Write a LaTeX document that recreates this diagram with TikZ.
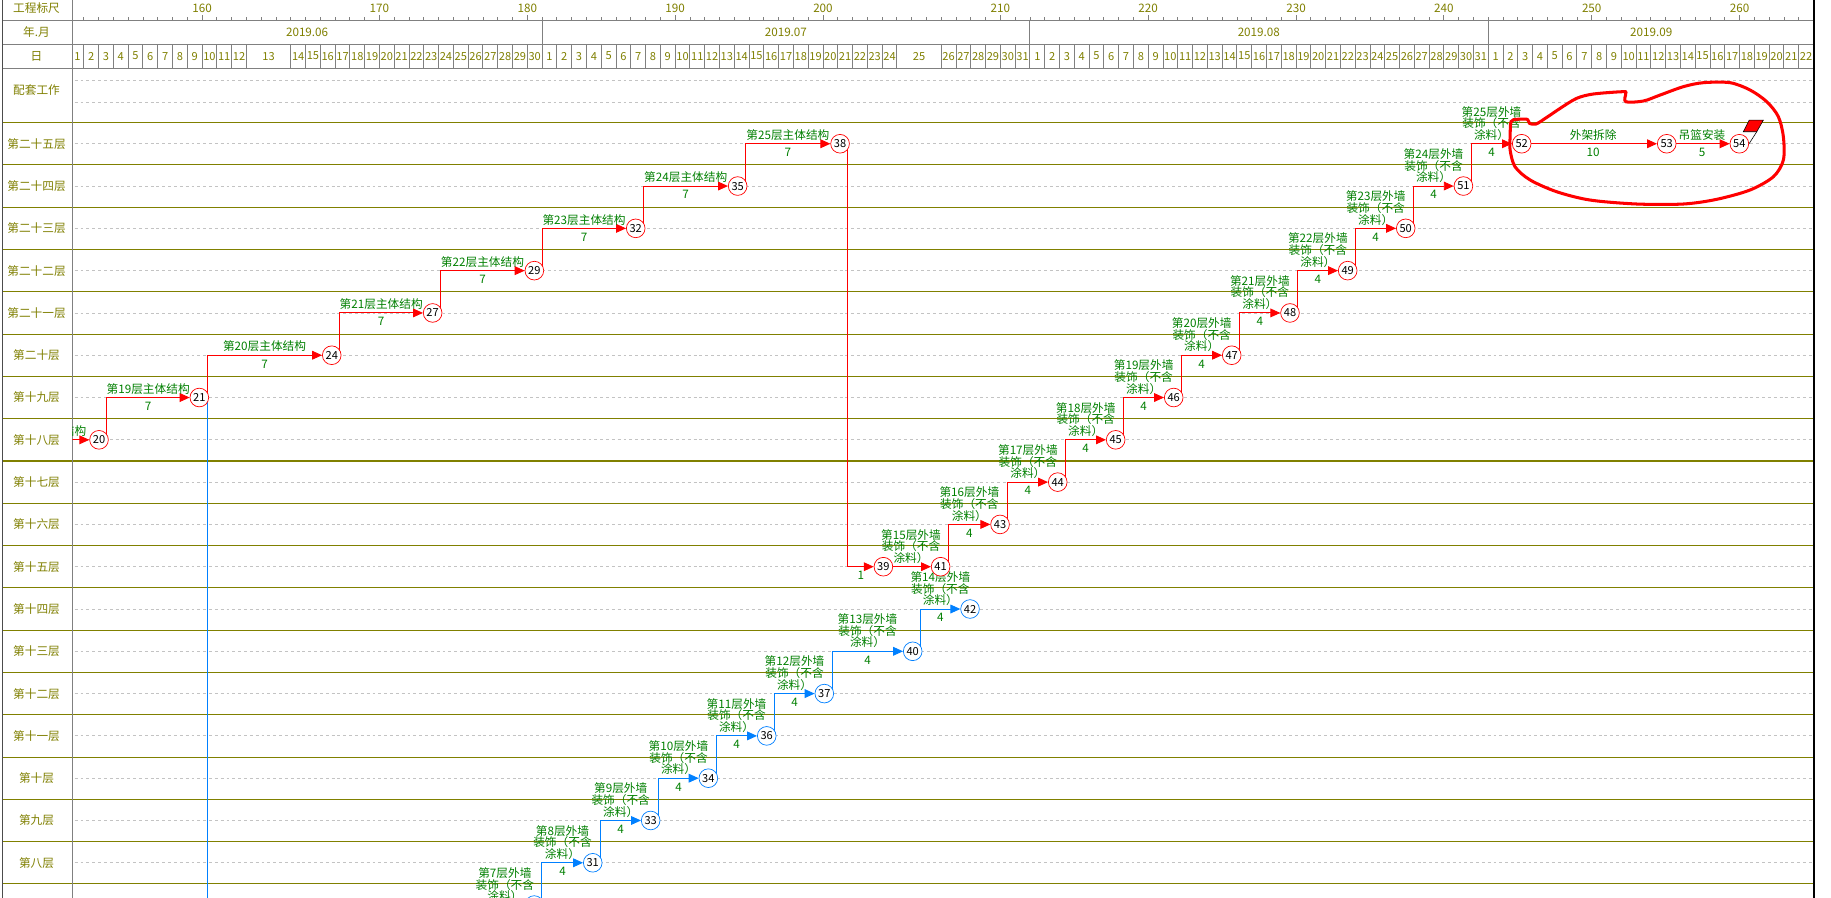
\documentclass[tikz,border=0pt]{standalone}
\usepackage{fontspec}
\setmainfont{Noto Sans CJK SC}
\usetikzlibrary{calc,arrows.meta}
\definecolor{olv}{RGB}{128,128,0}
\definecolor{grn}{RGB}{0,128,0}
\definecolor{rd}{RGB}{255,0,0}
\definecolor{bl}{RGB}{0,128,255}
\definecolor{gln}{RGB}{128,128,128}
\definecolor{dsh}{RGB}{195,195,195}
\pgfdeclarelayer{bg}\pgfdeclarelayer{edges}
\pgfsetlayers{bg,edges,main}
\newcommand\XS[1]{(59.1+12.66*(#1))}
\newcommand\RC[1]{(123.1+36.22*(#1))}
\newcommand\mkedge[5]{%
  \coordinate (tmpS) at ($(#1)+(6.6,0)$);
  \coordinate (tmpC) at (tmpS |- #2);
  \coordinate (tmpM) at ($(tmpC)!0.5!(#2.west)$);
  \draw[#3,conn] (tmpS) -- (tmpC) -- (#2.west);
  \node[lab,anchor=south] at ($(tmpM)+(0,-3.5)$) {#4};
  \node[dur,anchor=base] at ($(tmpM)+(0,11)$) {#5};
}
\begin{document}
\lineskiplimit=-20pt\relax
\begin{tikzpicture}[x=1pt,y=-1pt,
  evr/.style={circle,draw=rd,fill=white,line width=0.6pt,minimum size=16pt,inner sep=0pt,font=\fontsize{9.5}{9.5}\selectfont,text=black},
  evb/.style={evr,draw=bl},
  conn/.style={line width=0.8pt,-{Triangle[length=8.5pt,width=7.5pt]}},
  lab/.style={inner sep=0pt,align=center,text depth=0pt,text=grn,font=\fontsize{10}{10}\selectfont},
  dur/.style={inner sep=0pt,text=grn,font=\fontsize{10}{10}\selectfont},
  hdr/.style={inner sep=0pt,text=olv,font=\fontsize{10}{10}\selectfont},
  daytxt/.style={inner sep=0pt,text=olv,font=\fontsize{9.5}{9.5}\selectfont},
  rowline/.style={olv,line width=0.9pt},
  hline/.style={gln,line width=0.8pt},
  gridd/.style={dsh,line width=0.7pt,dash pattern=on 2.5pt off 2.5pt},
]
\useasboundingbox (0,0) rectangle (1568,769);
\begin{pgfonlayer}{bg}
\fill[white] (0,0) rectangle (1568,769);
% dashed centre lines
\foreach \y in {68.5,87.3} \draw[gridd] (64,\y) -- (1553,\y);
\foreach \k in {0,...,17} \draw[gridd] (64,{\RC{\k}}) -- (1553,{\RC{\k}});
% row lines
\foreach \k in {0,...,18} \draw[rowline] (2,{105+36.22*\k}) -- (1553,{105+36.22*\k});
% header lines
\foreach \y in {17.1,37.7,58.5} \draw[hline] (2,\y) -- (1553,\y);
% ruler ticks
\foreach \s in {1,...,117} \draw[gln,line width=0.7pt] ({\XS{\s}},17.1) -- ++(0,-2.5);
\foreach \s/\v in {9/160,21/170,31/180,41/190,51/200,63/210,73/220,83/230,93/240,103/250,113/260}{
  \draw[gln,line width=0.7pt] ({\XS{\s}},17.1) -- ++(0,-4);
  \node[hdr] (r\v) at ({\XS{\s}},7.3) {\v};}
% month boundaries
\foreach \s in {32,65,96} \draw[hline] ({\XS{\s}},17.1) -- ({\XS{\s}},58.5);
\node[hdr] (m6) at (263,27.7) {2019.06};
\node[hdr] (m7) at (673,27.7) {2019.07};
\node[hdr] (m8) at (1078,27.7) {2019.08};
\node[hdr] (m9) at (1414,27.7) {2019.09};
% day cells
\foreach \s in {1,...,12} \draw[hline] ({\XS{\s}},37.7) -- ({\XS{\s}},58.5);
\foreach \s in {15,...,56} \draw[hline] ({\XS{\s}},37.7) -- ({\XS{\s}},58.5);
\foreach \s in {59,...,117} \draw[hline] ({\XS{\s}},37.7) -- ({\XS{\s}},58.5);
\node[daytxt] (d6a) at (66.3,48) {1};
\foreach \d in {2,...,12} \node[daytxt] (d6b\d) at ({\XS{\d-0.5}},48) {\d};
\node[daytxt] (d6c) at ({\XS{13.5}},48) {13};
\foreach \d in {14,...,30} \node[daytxt] (d6d\d) at ({\XS{\d+1.5}},48) {\d};
\foreach \d in {1,...,24} \node[daytxt] (d7a\d) at ({\XS{31+\d+0.5}},48) {\d};
\node[daytxt] (d7b) at ({\XS{57.5}},48) {25};
\foreach \d in {26,...,31} \node[daytxt] (d7c\d) at ({\XS{33+\d+0.5}},48) {\d};
\foreach \d in {1,...,31} \node[daytxt] (d8\d) at ({\XS{64+\d+0.5}},48) {\d};
\foreach \d in {1,...,22} \node[daytxt] (d9\d) at ({\XS{95+\d+0.5}},48) {\d};
% left column
\node[hdr] (h1) at (31.3,7.3) {工程标尺};
\node[hdr] (h2) at (31.3,27.7) {年.月};
\node[hdr] (h3) at (31.3,48) {日};
\node[hdr] (h4) at (31.3,77) {配套工作};
\foreach \t [count=\i from 0] in {第二十五层,第二十四层,第二十三层,第二十二层,第二十一层,第二十层,第十九层,第十八层,第十七层,第十六层,第十五层,第十四层,第十三层,第十二层,第十一层,第十层,第九层,第八层}
  \node[hdr] (fl\i) at (31.3,{\RC{\i}}) {\t};
% verticals
\draw[gln,line width=0.9pt] (62,0) -- (62,769);
\draw[black!70,line width=1.4pt] (2.2,0) -- (2.2,769);
\draw[black,line width=1.4pt] (1553.3,0) -- (1553.3,769);
\end{pgfonlayer}

% event nodes
\foreach \n/\x/\k in {20/84.8/7,21/170.7/6,24/284.1/5,27/370.5/4,29/457.6/3,32/544.4/2,35/631.7/1,38/719.4/0,39/756.5/10,41/805.5/10,43/856.4/9,44/905.8/8,45/955.4/7,46/1005.1/6,47/1054.8/5,48/1104.7/4,49/1154.1/3,50/1203.8/2,51/1253.2/1,52/1303.1/0,53/1427.3/0,54/1489.5/0}
  \node[evr] (n\n) at (\x,{\RC{\k}}) {\n};
\foreach \n/\x/\k in {31/507.6/17,33/557.2/16,34/606.6/15,36/656.6/14,37/705.9/13,40/781.6/12,42/830.7/11}
  \node[evb] (n\n) at (\x,{\RC{\k}}) {\n};
\node[evb] (n7) at (457.5,{\RC{18}}) {};
\coordinate (s0) at (-6.6,{\RC{7}});
\coordinate (p6) at (408.9,{\RC{19}});
\coordinate (b21end) at ($(n21)+(6.6,440)$);

\begin{pgfonlayer}{edges}
\begin{scope}
\clip (62,58.5) rectangle (1553,769);
\mkedge{s0}{n20}{rd}{第18层主体结构}{}
\end{scope}
\draw[bl,line width=0.8pt] ($(n21)+(6.6,0)$) -- (b21end);
\mkedge{n20}{n21}{rd}{第19层主体结构}{7}
\mkedge{n21}{n24}{rd}{第20层主体结构}{7}
\mkedge{n24}{n27}{rd}{第21层主体结构}{7}
\mkedge{n27}{n29}{rd}{第22层主体结构}{7}
\mkedge{n29}{n32}{rd}{第23层主体结构}{7}
\mkedge{n32}{n35}{rd}{第24层主体结构}{7}
\mkedge{n35}{n38}{rd}{第25层主体结构}{7}
\mkedge{n38}{n39}{rd}{}{1}
\mkedge{n39}{n41}{rd}{第15层外墙\\装饰（不含\\涂料）}{}
\mkedge{n41}{n43}{rd}{第16层外墙\\装饰（不含\\涂料）}{4}
\mkedge{n43}{n44}{rd}{第17层外墙\\装饰（不含\\涂料）}{4}
\mkedge{n44}{n45}{rd}{第18层外墙\\装饰（不含\\涂料）}{4}
\mkedge{n45}{n46}{rd}{第19层外墙\\装饰（不含\\涂料）}{4}
\mkedge{n46}{n47}{rd}{第20层外墙\\装饰（不含\\涂料）}{4}
\mkedge{n47}{n48}{rd}{第21层外墙\\装饰（不含\\涂料）}{4}
\mkedge{n48}{n49}{rd}{第22层外墙\\装饰（不含\\涂料）}{4}
\mkedge{n49}{n50}{rd}{第23层外墙\\装饰（不含\\涂料）}{4}
\mkedge{n50}{n51}{rd}{第24层外墙\\装饰（不含\\涂料）}{4}
\mkedge{n51}{n52}{rd}{第25层外墙\\装饰（不含\\涂料）}{4}
\mkedge{n52}{n53}{rd}{外架拆除}{10}
\mkedge{n53}{n54}{rd}{吊篮安装}{5}
\mkedge{p6}{n7}{bl}{第7层外墙\\装饰（不含\\涂料）}{}
\mkedge{n7}{n31}{bl}{第8层外墙\\装饰（不含\\涂料）}{4}
\mkedge{n31}{n33}{bl}{第9层外墙\\装饰（不含\\涂料）}{4}
\mkedge{n33}{n34}{bl}{第10层外墙\\装饰（不含\\涂料）}{4}
\mkedge{n34}{n36}{bl}{第11层外墙\\装饰（不含\\涂料）}{4}
\mkedge{n36}{n37}{bl}{第12层外墙\\装饰（不含\\涂料）}{4}
\mkedge{n37}{n40}{bl}{第13层外墙\\装饰（不含\\涂料）}{4}
\mkedge{n40}{n42}{bl}{第14层外墙\\装饰（不含\\涂料）}{4}
\end{pgfonlayer}

% flag on 54
\draw[black,line width=0.5pt] (1504.4,112.8) -- (n54.east);
\draw[fill=rd,draw=black,line width=0.5pt] (1492.9,112.8) -- (1498,102.8) -- (1510.1,102.8) -- (1504.4,112.8) -- cycle;

% hand-drawn red mark
\draw[rd,line width=2.6pt,line join=round,line cap=round] plot[smooth cycle,tension=0.5] coordinates {
(1294,104.2) (1298.9,102.2) (1308,102.2) (1309.7,105.6) (1315.4,106.2) (1324.6,100.5) (1336,92.8) (1350.2,84.2) (1364.5,80.5) (1390.2,78.5) (1392.2,80) (1392.2,87.1) (1407.3,86.5) (1421.6,81.4) (1441.6,74.2) (1458.7,70.8) (1481.5,70.8) (1498.7,77.1) (1513,87.1) (1522.9,99.9) (1527.2,117.1) (1527.2,137) (1518.7,151.3) (1498.7,162.7) (1470.1,170.7) (1441.6,174.7) (1401.6,174.7) (1361.6,171.3) (1333.1,164.2) (1310.3,154.1) (1297.4,142.8) (1293.2,128.5) (1293.2,117.1)};
\end{tikzpicture}
\end{document}
